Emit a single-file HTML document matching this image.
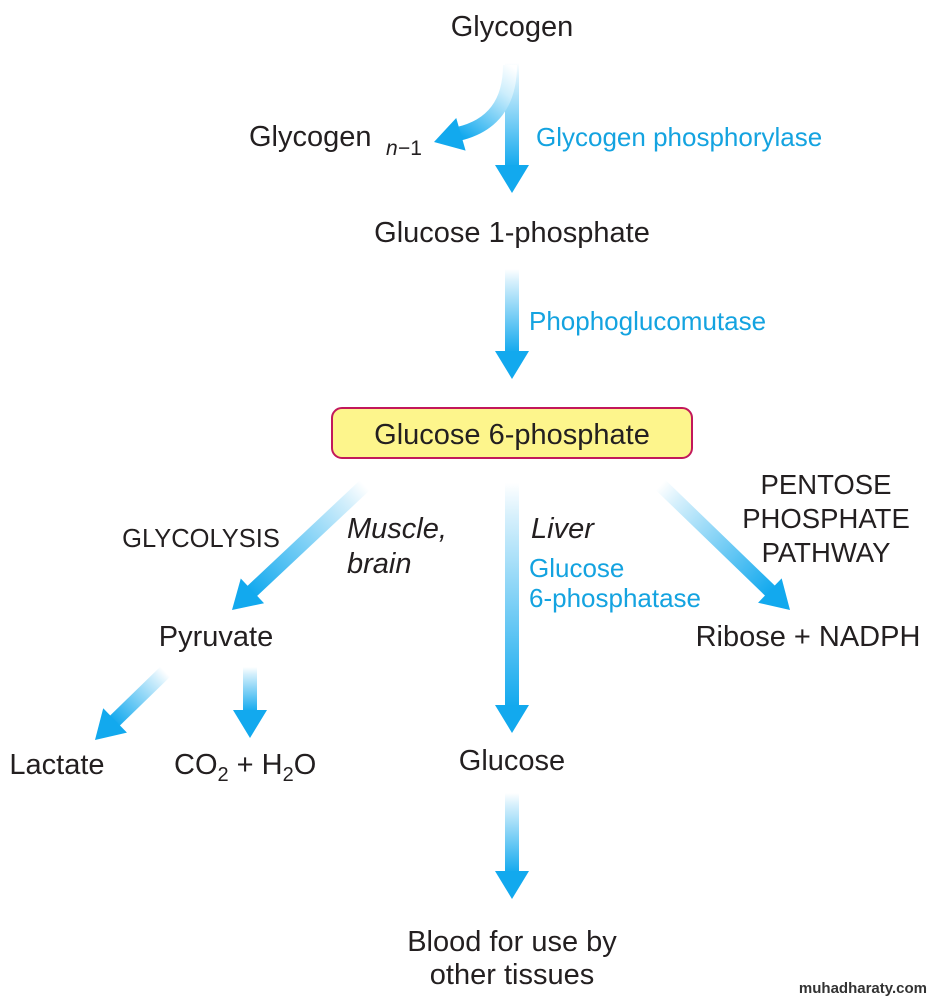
<!DOCTYPE html>
<html><head><meta charset="utf-8"><style>
html,body{margin:0;padding:0;background:#fff;}
svg{display:block;}
text{font-family:"Liberation Sans",sans-serif;}
.k{fill:#231f20;font-size:29px;}
.b{fill:#14a3e0;font-size:26px;}
</style></head><body>
<svg width="932" height="1000" viewBox="0 0 932 1000" xmlns="http://www.w3.org/2000/svg">
<defs>
<linearGradient id="g" x1="0" y1="0" x2="0" y2="1">
<stop offset="0" stop-color="#ffffff"/><stop offset="0.15" stop-color="#d6f0fc"/><stop offset="1" stop-color="#12a9ee"/>
</linearGradient>
<linearGradient id="gc" gradientUnits="userSpaceOnUse" x1="510" y1="65" x2="460" y2="135">
<stop offset="0" stop-color="#ffffff"/><stop offset="0.3" stop-color="#cdeefc"/><stop offset="1" stop-color="#12a9ee"/>
</linearGradient>
<g id="ahead"><polygon points="-17,-28 17,-28 0,0" fill="#12a9ee"/></g>
</defs>

<g transform="translate(512,193)"><rect x="-7" y="-130" width="14" height="104" fill="url(#g)"/><use href="#ahead"/></g>
<path d="M510,65 Q510,122 458,134" stroke="url(#gc)" stroke-width="14" fill="none"/>
<g transform="translate(434,142) rotate(74)"><use href="#ahead"/></g>
<g transform="translate(512,379)"><rect x="-7" y="-110" width="14" height="84" fill="url(#g)"/><use href="#ahead"/></g>
<g transform="translate(232,610) rotate(46.8)"><rect x="-7" y="-182" width="14" height="156" fill="url(#g)"/><use href="#ahead"/></g>
<g transform="translate(512,733)"><rect x="-7" y="-250" width="14" height="224" fill="url(#g)"/><use href="#ahead"/></g>
<g transform="translate(790,610) rotate(-46)"><rect x="-7" y="-180" width="14" height="154" fill="url(#g)"/><use href="#ahead"/></g>
<g transform="translate(95,740) rotate(45.8)"><rect x="-7" y="-98" width="14" height="72" fill="url(#g)"/><use href="#ahead"/></g>
<g transform="translate(250,738)"><rect x="-7" y="-71" width="14" height="45" fill="url(#g)"/><use href="#ahead"/></g>
<g transform="translate(512,899)"><rect x="-7" y="-106" width="14" height="80" fill="url(#g)"/><use href="#ahead"/></g>

<rect x="332" y="408" width="360" height="50" rx="10" fill="#fdf58c" stroke="#c2185b" stroke-width="2"/>

<text class="k" x="512" y="36" text-anchor="middle">Glycogen</text>
<text class="k" x="249" y="146">Glycogen</text>
<text class="k" x="386" y="155" style="font-size:21px;font-style:italic">n</text><text class="k" x="398" y="155" style="font-size:21px">−1</text>
<text class="b" x="536" y="146">Glycogen phosphorylase</text>
<text class="k" x="512" y="242" text-anchor="middle">Glucose 1-phosphate</text>
<text class="b" x="529" y="330">Phophoglucomutase</text>
<text class="k" x="512" y="444" text-anchor="middle">Glucose 6-phosphate</text>
<text class="k" x="201" y="547" text-anchor="middle" style="font-size:25.5px">GLYCOLYSIS</text>
<text class="k" x="347" y="538" style="font-style:italic">Muscle,</text>
<text class="k" x="347" y="573" style="font-style:italic">brain</text>
<text class="k" x="531" y="538" style="font-style:italic">Liver</text>
<text class="b" x="529" y="577">Glucose</text>
<text class="b" x="529" y="607">6-phosphatase</text>
<text class="k" x="826" y="494" text-anchor="middle" style="font-size:27.5px">PENTOSE</text>
<text class="k" x="826" y="528" text-anchor="middle" style="font-size:27.5px">PHOSPHATE</text>
<text class="k" x="826" y="562" text-anchor="middle" style="font-size:27.5px">PATHWAY</text>
<text class="k" x="216" y="646" text-anchor="middle">Pyruvate</text>
<text class="k" x="808" y="646" text-anchor="middle">Ribose + NADPH</text>
<text class="k" x="57" y="774" text-anchor="middle">Lactate</text>
<text class="k" x="174" y="774">CO<tspan style="font-size:20px" dy="7">2</tspan><tspan dy="-7"> + H</tspan><tspan style="font-size:20px" dy="7">2</tspan><tspan dy="-7">O</tspan></text>
<text class="k" x="512" y="770" text-anchor="middle">Glucose</text>
<text class="k" x="512" y="951" text-anchor="middle">Blood for use by</text>
<text class="k" x="512" y="984" text-anchor="middle">other tissues</text>
<text x="927" y="993" text-anchor="end" style="font-size:15px;font-weight:bold" fill="#333">muhadharaty.com</text>
</svg>
</body></html>
